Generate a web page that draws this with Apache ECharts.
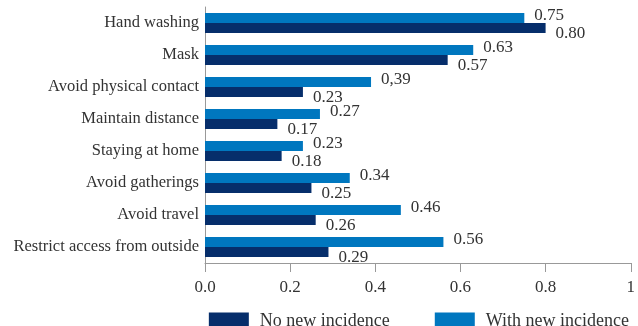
<!DOCTYPE html>
<html><head><meta charset="utf-8">
<script src="https://cdn.jsdelivr.net/npm/echarts@6/dist/echarts.min.js"></script>
<style>html,body{margin:0;padding:0;background:#fff}#c{width:638px;height:326px}</style>
</head><body><div id="c"></div>
<script>
const categories = ["Hand washing","Mask","Avoid physical contact","Maintain distance","Staying at home","Avoid gatherings","Avoid travel","Restrict access from outside"];
const withNew = [0.75,0.63,0.39,0.27,0.23,0.34,0.46,0.56];
const withNewLabels = ["0.75","0.63","0,39","0.27","0.23","0.34","0.46","0.56"];
const noNew = [0.80,0.57,0.23,0.17,0.18,0.25,0.26,0.29];
const noNewLabels = ["0.80","0.57","0.23","0.17","0.18","0.25","0.26","0.29"];
const xTicks = ["0.0","0.2","0.4","0.6","0.8","1"];

const font = "'Liberation Serif', 'DejaVu Serif', serif";
const chart = echarts.init(document.getElementById('c'));
chart.setOption({
  animation:false,
  grid:{left:205,right:6,top:7,bottom:63},
  legend:{
    top:307, right:4, itemWidth:40, itemHeight:17, itemGap:45,
    data:["No new incidence","With new incidence"],
    textStyle:{fontFamily:font,fontSize:18,color:'#333',padding:[0,0,0,6]},
    icon:'rect'
  },
  xAxis:{
    type:'value',min:0,max:1,interval:0.2,
    axisLine:{show:true,lineStyle:{color:'#999'}},
    axisTick:{show:true,length:9,lineStyle:{color:'#999'}},
    splitLine:{show:false},
    axisLabel:{fontFamily:font,fontSize:17,color:'#333',margin:16,
      formatter:(v)=>xTicks[Math.round(v/0.2)]}
  },
  yAxis:{
    type:'category',data:categories,inverse:true,
    axisLine:{show:true,lineStyle:{color:'#999'}},
    axisTick:{show:false},
    axisLabel:{fontFamily:font,fontSize:16.5,color:'#333',margin:6}
  },
  series:[
    {name:"With new incidence",type:'bar',data:withNew,barWidth:10,barGap:'0%',
     itemStyle:{color:'#0077bf'},
     label:{show:true,position:'right',distance:10,offset:[0,-2],fontFamily:font,fontSize:17,color:'#333',
       formatter:(p)=>withNewLabels[p.dataIndex]}},
    {name:"No new incidence",type:'bar',data:noNew,barWidth:10,barGap:'0%',
     itemStyle:{color:'#062e6b'},
     label:{show:true,position:'right',distance:10,offset:[0,6],fontFamily:font,fontSize:17,color:'#333',
       formatter:(p)=>noNewLabels[p.dataIndex]}}
  ]
});
</script></body></html>
